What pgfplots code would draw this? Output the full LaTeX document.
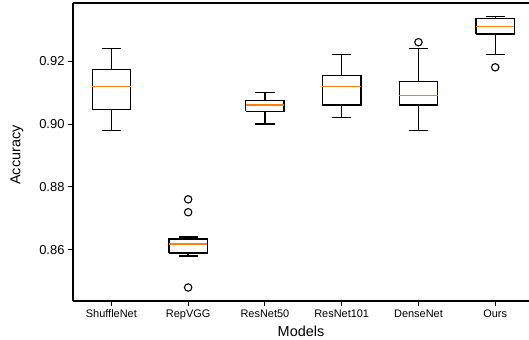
\documentclass[border=0pt]{standalone}
\usepackage{fontspec}
\setmainfont{Liberation Sans}
\usepackage{pgfplots}
\pgfplotsset{compat=1.18}
\definecolor{mplorange}{HTML}{FF7F0E}

\begin{document}
\begin{tikzpicture}
\begin{axis}[
  scale only axis, width=456bp, height=298bp,
  xmin=0.5, xmax=6.44, ymin=0.8436, ymax=0.9386,
  axis y line*=left,
  xtick={1,2,3,4,5,6},
  xticklabels={ShuffleNet,RepVGG,ResNet50,ResNet101,DenseNet,Ours},
  ytick={0.86,0.88,0.90,0.92},
  yticklabel style={/pgf/number format/fixed, /pgf/number format/fixed zerofill,
    /pgf/number format/precision=2, /pgf/number format/assume math mode=true,
    font=\fontsize{13}{15}\selectfont},
  xticklabel style={font=\fontsize{11}{13}\selectfont},
  tick align=outside, xtick pos=bottom,
  major tick length=5bp,
  tick style={black, line width=1.1bp},
  axis line style={line width=1.2bp},
  xlabel={Models}, ylabel={Accuracy},
  label style={font=\fontsize{14.5}{17}\selectfont},
  xlabel style={at={(axis description cs:0.5,-0.101)}, anchor=center},
  ylabel style={at={(axis description cs:-0.123,0.49)}, anchor=center},
  unbounded coords=jump,
]
\coordinate (sw) at (rel axis cs:0,0);
\coordinate (ne) at (rel axis cs:1,1);

% boxes, whiskers and caps (lower whisker, Q1, Q3, upper whisker)
\addplot[black, line width=1.35bp, mark=none, line join=miter] table[row sep=\\] {
x y\\
1 0.8980\\ 1 0.9046\\ nan nan\\ 0.875 0.8980\\ 1.125 0.8980\\ nan nan\\
0.75 0.9046\\ 1.25 0.9046\\ 1.25 0.9175\\ 0.75 0.9175\\ 0.75 0.9046\\ nan nan\\
1 0.9175\\ 1 0.9241\\ nan nan\\ 0.875 0.9241\\ 1.125 0.9241\\ nan nan\\
2 0.8579\\ 2 0.8589\\ nan nan\\ 1.875 0.8579\\ 2.125 0.8579\\ nan nan\\
1.75 0.8589\\ 2.25 0.8589\\ 2.25 0.8634\\ 1.75 0.8634\\ 1.75 0.8589\\ nan nan\\
2 0.8634\\ 2 0.8640\\ nan nan\\ 1.875 0.8640\\ 2.125 0.8640\\ nan nan\\
3 0.9000\\ 3 0.9041\\ nan nan\\ 2.875 0.9000\\ 3.125 0.9000\\ nan nan\\
2.75 0.9041\\ 3.25 0.9041\\ 3.25 0.9076\\ 2.75 0.9076\\ 2.75 0.9041\\ nan nan\\
3 0.9076\\ 3 0.9101\\ nan nan\\ 2.875 0.9101\\ 3.125 0.9101\\ nan nan\\
4 0.9021\\ 4 0.9061\\ nan nan\\ 3.875 0.9021\\ 4.125 0.9021\\ nan nan\\
3.75 0.9061\\ 4.25 0.9061\\ 4.25 0.9155\\ 3.75 0.9155\\ 3.75 0.9061\\ nan nan\\
4 0.9155\\ 4 0.9222\\ nan nan\\ 3.875 0.9222\\ 4.125 0.9222\\ nan nan\\
5 0.8980\\ 5 0.9061\\ nan nan\\ 4.875 0.8980\\ 5.125 0.8980\\ nan nan\\
4.75 0.9061\\ 5.25 0.9061\\ 5.25 0.9136\\ 4.75 0.9136\\ 4.75 0.9061\\ nan nan\\
5 0.9136\\ 5 0.9241\\ nan nan\\ 4.875 0.9241\\ 5.125 0.9241\\ nan nan\\
6 0.9222\\ 6 0.9287\\ nan nan\\ 5.875 0.9222\\ 6.125 0.9222\\ nan nan\\
5.75 0.9287\\ 6.25 0.9287\\ 6.25 0.9337\\ 5.75 0.9337\\ 5.75 0.9287\\ nan nan\\
6 0.9337\\ 6 0.9343\\ nan nan\\ 5.875 0.9343\\ 6.125 0.9343\\
};

% medians
\addplot[mplorange, line width=1.35bp, mark=none] table[row sep=\\] {
x y\\
0.75 0.9120\\ 1.25 0.9120\\ nan nan\\
1.75 0.8618\\ 2.25 0.8618\\ nan nan\\
2.75 0.9061\\ 3.25 0.9061\\ nan nan\\
3.75 0.9120\\ 4.25 0.9120\\ nan nan\\
4.75 0.9091\\ 5.25 0.9091\\ nan nan\\
5.75 0.9312\\ 6.25 0.9312\\
};

% outliers
\addplot[black, only marks, mark=o, mark size=3.7bp, mark options={line width=1.1bp}] table[row sep=\\] {
x y\\
2 0.8760\\ 2 0.8719\\ 2 0.8479\\ 5 0.9261\\ 6 0.9181\\
};
\end{axis}
\pgfresetboundingbox
\useasboundingbox ([shift={(-73bp,-39bp)}]sw) rectangle ([shift={(0bp,3bp)}]ne);
\end{tikzpicture}
\end{document}
